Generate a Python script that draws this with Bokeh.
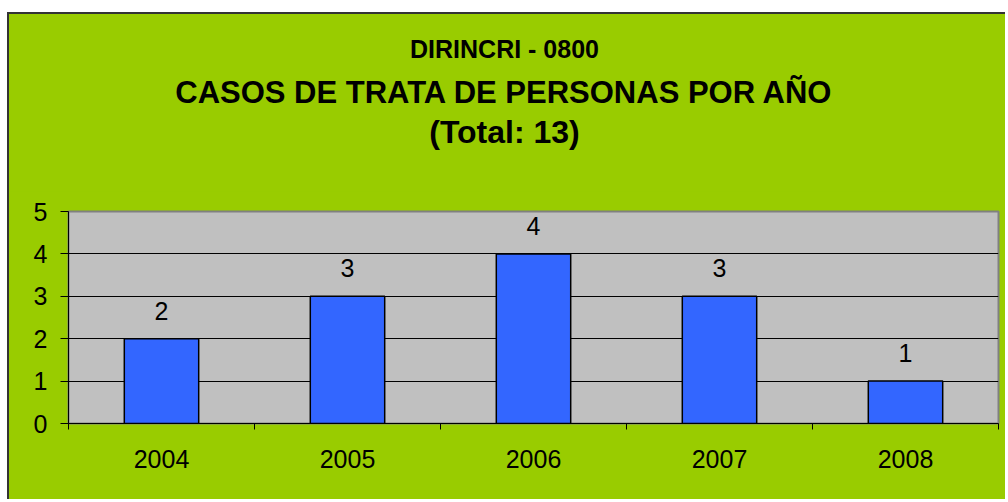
from bokeh.plotting import figure
from bokeh.models import Range1d, FixedTicker, LabelSet, ColumnDataSource, Spacer
from bokeh.layouts import column, row
from bokeh.core.properties import value
from bokeh.embed import file_html
from bokeh.resources import INLINE

years = ["2004", "2005", "2006", "2007", "2008"]
cases = [2, 3, 4, 3, 1]
y_ticks = [0, 1, 2, 3, 4, 5]
title_lines = ["DIRINCRI - 0800", "CASOS DE TRATA DE PERSONAS POR AÑO", "(Total: 13)"]
title_sizes = ["25px", "31px", "32px"]

FONT = "Liberation Sans"
GREEN = "#99CC00"
BORDER = "2px solid #333333"

W = 998
MB_LEFT, MB_RIGHT = 59, 9
FRAME_W = W - MB_LEFT - MB_RIGHT

# ---- title strip (pixel-like coordinates inside its frame, y measured from the top) ----
HT = 179
tf = figure(width=W, height=HT, x_range=Range1d(0, FRAME_W), y_range=Range1d(HT, 0),
            output_backend="svg", toolbar_location=None,
            x_axis_type=None, y_axis_type=None,
            min_border_left=MB_LEFT, min_border_right=MB_RIGHT,
            min_border_top=0, min_border_bottom=0)
tf.styles = {"border-top": BORDER, "border-left": BORDER, "background-color": GREEN}
tf.border_fill_color = GREEN
tf.background_fill_color = GREEN
tf.outline_line_color = None
tf.grid.visible = False
title_baselines = [34, 78, 117]
title_center = 436
tsrc = ColumnDataSource(dict(x=[title_center] * len(title_lines), y=title_baselines,
                             text=title_lines, size=title_sizes))
tf.text(x="x", y="y", text="text", source=tsrc, text_align="center",
        text_baseline="alphabetic", text_font=value(FONT), text_font_size="size",
        text_font_style="bold", text_color="black")

# ---- main chart ----
H = 308
MB_TOP, MB_BOTTOM = 20, 76
pos = [i + 0.5 for i in range(len(years))]
src = ColumnDataSource(dict(x=pos, top=cases, label=[str(c) for c in cases]))

p = figure(width=W, height=H, x_range=Range1d(0, len(years)), y_range=Range1d(0, y_ticks[-1]),
           output_backend="svg", toolbar_location=None,
           min_border_left=MB_LEFT, min_border_right=MB_RIGHT,
           min_border_top=MB_TOP, min_border_bottom=MB_BOTTOM)
p.styles = {"border-left": BORDER, "background-color": GREEN}
p.border_fill_color = GREEN
p.background_fill_color = "#C0C0C0"
p.outline_line_color = "#808080"
p.outline_line_width = 2

p.vbar(x="x", top="top", width=0.4, source=src, fill_color="#3366FF", line_color="black", line_width=1.5)

p.add_layout(LabelSet(x="x", y="top", text="label", source=src, text_align="center",
                      text_baseline="alphabetic", y_offset=19, text_font=value(FONT),
                      text_font_size=value("25px"), text_color=value("black")))

xa = p.xaxis[0]
xa.ticker = FixedTicker(ticks=pos, minor_ticks=list(range(len(years) + 1)))
xa.major_label_overrides = {x: y for x, y in zip(pos, years)}
xa.major_tick_out = 0
xa.major_tick_in = 0
xa.minor_tick_out = 6
xa.minor_tick_in = 0
xa.minor_tick_line_color = "black"
xa.axis_line_color = "black"
xa.major_label_text_font = FONT
xa.major_label_text_font_size = "25px"
xa.major_label_text_color = "black"
xa.major_label_standoff = 20

ya = p.yaxis[0]
ya.ticker = FixedTicker(ticks=y_ticks, minor_ticks=[])
ya.major_tick_out = 8
ya.major_tick_in = 0
ya.major_tick_line_color = "black"
ya.axis_line_color = "black"
ya.major_label_text_font = FONT
ya.major_label_text_font_size = "25px"
ya.major_label_text_color = "black"
ya.major_label_standoff = 13

p.xgrid.grid_line_color = None
p.ygrid.ticker = FixedTicker(ticks=y_ticks[1:-1])
p.ygrid.grid_line_color = "black"
p.ygrid.grid_line_width = 1

layout = column(Spacer(height=12), row(Spacer(width=7), column(tf, p)))
open("out.html", "w").write(file_html(layout, INLINE))
